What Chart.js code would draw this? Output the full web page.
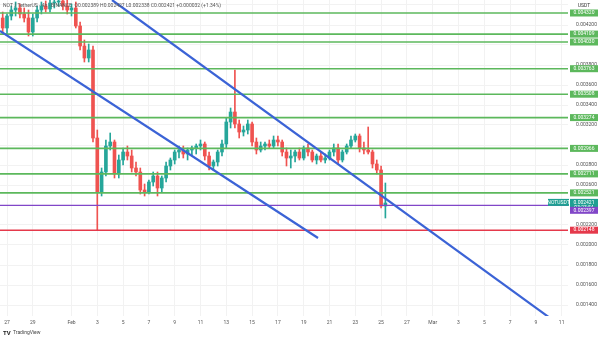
<!DOCTYPE html>
<html>
<head>
<meta charset="utf-8">
<script src="https://cdn.jsdelivr.net/npm/chart.js@4.4.1/dist/chart.umd.min.js"></script>
<style>
  html, body { margin: 0; padding: 0; background: #fff; }
  #wrap { width: 600px; height: 340px; position: relative; }
</style>
</head>
<body>
<div id="wrap"><canvas id="chart"></canvas></div>
<script>
// 8h candles, x = days since Jan 27
var firstCandle = -1 / 3;
var candleStep = 1 / 3;

var opens = [0.00427, 0.00417, 0.00429, 0.00435, 0.00437, 0.00431, 0.00427, 0.00413, 0.00427, 0.00435,
    0.00439, 0.00436, 0.00442, 0.00443, 0.00444, 0.00439, 0.00435, 0.00437, 0.00419, 0.00399,
    0.00387, 0.00395, 0.00307, 0.00253, 0.00273, 0.00299, 0.00303, 0.00271, 0.00285, 0.00293,
    0.00289, 0.00277, 0.00273, 0.00255, 0.00253, 0.00263, 0.00269, 0.00257, 0.00267, 0.00279,
    0.00285, 0.00293, 0.00295, 0.00291, 0.00295, 0.00297, 0.00299, 0.00301, 0.00289, 0.00279,
    0.00283, 0.00293, 0.00301, 0.00323, 0.00333, 0.00321, 0.00313, 0.00315, 0.00321, 0.00303,
    0.00295, 0.00299, 0.00301, 0.00299, 0.00305, 0.00303, 0.00293, 0.00287, 0.00289, 0.00293,
    0.00287, 0.00297, 0.00293, 0.00285, 0.00289, 0.00285, 0.00287, 0.00293, 0.00297, 0.00285,
    0.00293, 0.00299, 0.00305, 0.00309, 0.00297, 0.00295, 0.00293, 0.00281, 0.00275, 0.00239];
var highs = [0.00433, 0.00431, 0.00439, 0.00443, 0.00441, 0.00437, 0.00435, 0.00431, 0.00439, 0.00443,
    0.00444, 0.00445, 0.00450, 0.00450, 0.00452, 0.00448, 0.00441, 0.00443, 0.00423, 0.00405,
    0.00401, 0.00399, 0.00315, 0.00277, 0.00305, 0.00312, 0.00305, 0.00290, 0.00297, 0.00299,
    0.00295, 0.00283, 0.00277, 0.00261, 0.00265, 0.00273, 0.00273, 0.00269, 0.00283, 0.00287,
    0.00295, 0.00299, 0.00299, 0.00297, 0.00299, 0.00301, 0.00305, 0.00303, 0.00293, 0.00285,
    0.00295, 0.00305, 0.00327, 0.00337, 0.00375, 0.00325, 0.00319, 0.00325, 0.00323, 0.00307,
    0.00303, 0.00303, 0.00305, 0.00309, 0.00309, 0.00305, 0.00297, 0.00295, 0.00295, 0.00297,
    0.00299, 0.00301, 0.00295, 0.00291, 0.00293, 0.00291, 0.00295, 0.00301, 0.00301, 0.00295,
    0.00301, 0.00309, 0.00311, 0.00311, 0.00303, 0.00318, 0.00295, 0.00285, 0.00279, 0.00262];
var lows = [0.00413, 0.00411, 0.00425, 0.00429, 0.00427, 0.00423, 0.00409, 0.00409, 0.00423, 0.00431,
    0.00433, 0.00433, 0.00437, 0.00439, 0.00435, 0.00431, 0.00429, 0.00417, 0.00395, 0.00383,
    0.00383, 0.00303, 0.00215, 0.00249, 0.00269, 0.00295, 0.00267, 0.00267, 0.00280, 0.00285,
    0.00273, 0.00269, 0.00251, 0.00249, 0.00251, 0.00259, 0.00249, 0.00253, 0.00263, 0.00275,
    0.00281, 0.00287, 0.00287, 0.00285, 0.00289, 0.00291, 0.00295, 0.00285, 0.00275, 0.00275,
    0.00279, 0.00289, 0.00297, 0.00317, 0.00317, 0.00307, 0.00309, 0.00311, 0.00299, 0.00291,
    0.00293, 0.00295, 0.00297, 0.00297, 0.00299, 0.00289, 0.00279, 0.00277, 0.00283, 0.00285,
    0.00285, 0.00289, 0.00283, 0.00281, 0.00283, 0.00282, 0.00285, 0.00289, 0.00281, 0.00283,
    0.00291, 0.00297, 0.00303, 0.00293, 0.00291, 0.00291, 0.00277, 0.00271, 0.00237, 0.00227];
var closes = [0.00417, 0.00429, 0.00435, 0.00437, 0.00431, 0.00427, 0.00413, 0.00427, 0.00435, 0.00439,
    0.00436, 0.00442, 0.00443, 0.00444, 0.00439, 0.00435, 0.00437, 0.00419, 0.00399, 0.00387,
    0.00395, 0.00307, 0.00253, 0.00273, 0.00299, 0.00303, 0.00271, 0.00285, 0.00293, 0.00289,
    0.00277, 0.00273, 0.00255, 0.00253, 0.00263, 0.00269, 0.00257, 0.00267, 0.00279, 0.00285,
    0.00293, 0.00295, 0.00291, 0.00295, 0.00297, 0.00299, 0.00301, 0.00289, 0.00279, 0.00283,
    0.00293, 0.00301, 0.00323, 0.00333, 0.00321, 0.00313, 0.00315, 0.00321, 0.00303, 0.00295,
    0.00299, 0.00301, 0.00299, 0.00305, 0.00303, 0.00293, 0.00287, 0.00289, 0.00293, 0.00287,
    0.00297, 0.00293, 0.00285, 0.00289, 0.00285, 0.00287, 0.00293, 0.00297, 0.00285, 0.00293,
    0.00299, 0.00305, 0.00309, 0.00297, 0.00295, 0.00293, 0.00281, 0.00275, 0.00239, 0.00242];

var greenLevels = [0.004320, 0.004109, 0.004030, 0.003763, 0.003508, 0.003274, 0.002966, 0.002711, 0.002521];
var currentPrice = 0.002421;
var purpleLevel = 0.002397;
var redLevel = 0.002148;

// trend lines: [day, price] end points
var upperTrend = [[8.14, 0.00445], [42.09, 0.00127]];
var lowerTrend = [[-0.54, 0.00414], [24.11, 0.00207]];

var dayTicks = [0, 2, 5, 7, 9, 11, 13, 15, 17, 19, 21, 23, 25, 27, 29, 31, 33, 35, 37, 39, 41, 43];
var dayLabels = ['27', '29', 'Feb', '3', '5', '7', '9', '11', '13', '15', '17', '19', '21', '23', '25', '27', 'Mar', '3', '5', '7', '9', '11'];
var yTicks = [0.0014, 0.0016, 0.0018, 0.0020, 0.0022, 0.0024, 0.0026, 0.0028, 0.0030, 0.0032, 0.0034, 0.0036, 0.0038, 0.0040, 0.0042, 0.0044];
var yTickLabels = ['0.001400', '0.001600', '0.001800', '0.002000', '0.002200', '', '0.002600', '0.002800', '', '0.003200', '0.003400', '0.003600', '0.003800', '', '0.004200', ''];

var xMin = -0.543, xMax = 43.49;
var yMin = 0.00129, yMax = 0.00445;

var upColor = '#26a69a', downColor = '#ef5350';
var green = '#5cb85c', blue = '#3b63d6', purple = '#8146c8', red = '#e5394b', teal = '#1f9f92';

var times = opens.map(function (_, i) { return firstCandle + i * candleStep; });
var candleColors = opens.map(function (o, i) { return closes[i] >= o ? upColor : downColor; });

var datasets = [];

greenLevels.forEach(function (v) {
    datasets.push({ type: 'line', data: [{ x: xMin, y: v }, { x: xMax, y: v }], borderColor: green, borderWidth: 1.6, pointRadius: 0, order: 2 });
});
datasets.push({ type: 'line', data: [{ x: xMin, y: purpleLevel }, { x: xMax, y: purpleLevel }], borderColor: purple, borderWidth: 1.2, pointRadius: 0, order: 2 });
datasets.push({ type: 'line', data: [{ x: xMin, y: redLevel }, { x: xMax, y: redLevel }], borderColor: red, borderWidth: 1.6, pointRadius: 0, order: 2 });
[upperTrend, lowerTrend].forEach(function (t) {
    datasets.push({ type: 'line', data: t.map(function (p) { return { x: p[0], y: p[1] }; }), borderColor: blue, borderWidth: 2.2, pointRadius: 0, order: 1 });
});

datasets.push({
    type: 'bar',
    data: times.map(function (t, i) { return { x: t, y: [lows[i], highs[i]] }; }),
    backgroundColor: candleColors,
    barThickness: 1,
    grouped: false,
    order: 11
});
datasets.push({
    type: 'bar',
    data: times.map(function (t, i) { return { x: t, y: [opens[i], closes[i]] }; }),
    backgroundColor: candleColors,
    barThickness: 3,
    minBarLength: 1,
    grouped: false,
    order: 10
});

var labelPlugin = {
    id: 'priceLabels',
    afterDraw: function (chart) {
        var ctx = chart.ctx, ys = chart.scales.y, area = chart.chartArea;
        ctx.save();
        ctx.font = '5px Roboto';
        ctx.textBaseline = 'middle';
        ctx.textAlign = 'center';

        function tag(value, color, text) {
            var py = ys.getPixelForValue(value);
            ctx.fillStyle = color;
            ctx.fillRect(area.right + 2, py - 3.5, 28, 7);
            ctx.fillStyle = '#fff';
            ctx.fillText(text, area.right + 16, py);
        }
        greenLevels.forEach(function (v) { tag(v, green, v.toFixed(6)); });

        // current price with countdown
        var cy = ys.getPixelForValue(currentPrice);
        ctx.fillStyle = teal;
        ctx.fillRect(area.right + 2, cy - 4, 28, 11);
        ctx.fillRect(area.right - 20, cy - 4, 21, 7);
        ctx.fillStyle = '#fff';
        ctx.fillText(currentPrice.toFixed(6), area.right + 16, cy - 0.5);
        ctx.fillText('03:23:54', area.right + 16, cy + 4.5);
        ctx.fillText('NOTUSDT', area.right - 9.5, cy - 0.5);

        var py = ys.getPixelForValue(purpleLevel) + 5;
        ctx.fillStyle = purple;
        ctx.fillRect(area.right + 2, py - 3.5, 28, 7);
        ctx.fillStyle = '#fff';
        ctx.fillText(purpleLevel.toFixed(6), area.right + 16, py);

        tag(redLevel, red, redLevel.toFixed(6));

        ctx.fillStyle = '#333';
        ctx.fillText('USDT', area.right + 16, 6);

        ctx.textAlign = 'left';
        ctx.fillStyle = '#555';
        ctx.fillText('NOT / TetherUS · 4h · BINANCE  O0.002389 H0.002427 L0.002338 C0.002421 +0.000032 (+1.34%)', 3, 6);

        ctx.fillStyle = '#222';
        ctx.font = 'bold 6px Roboto';
        ctx.fillText('TV', 3, 333);
        ctx.font = '5px Roboto';
        ctx.fillStyle = '#444';
        ctx.fillText('TradingView', 13, 333);
        ctx.restore();
    }
};

new Chart(document.getElementById('chart').getContext('2d'), {
    type: 'bar',
    data: { datasets: datasets },
    options: {
        responsive: true,
        maintainAspectRatio: false,
        animation: false,
        layout: { padding: 0, autoPadding: false },
        plugins: { legend: { display: false }, tooltip: { enabled: false } },
        scales: {
            x: {
                type: 'linear',
                min: xMin,
                max: xMax,
                offset: false,
                grid: { color: '#f2f2f2', drawTicks: false, offset: false },
                border: { display: false },
                ticks: {
                    font: { size: 5, family: 'Roboto' },
                    color: '#555',
                    padding: 4,
                    autoSkip: false,
                    maxRotation: 0,
                    callback: function (v, i) { return dayLabels[i]; }
                },
                afterBuildTicks: function (s) { s.ticks = dayTicks.map(function (v) { return { value: v }; }); },
                afterFit: function (s) { s.height = 24; s.paddingLeft = 0; s.paddingRight = 0; }
            },
            y: {
                position: 'right',
                min: yMin,
                max: yMax,
                grid: { color: '#f2f2f2', drawTicks: false },
                border: { display: false },
                ticks: {
                    font: { size: 5, family: 'Roboto' },
                    color: '#555',
                    padding: 8,
                    callback: function (v, i) { return yTickLabels[i]; }
                },
                afterBuildTicks: function (s) { s.ticks = yTicks.map(function (v) { return { value: v }; }); },
                afterFit: function (s) { s.width = 32; s.paddingTop = 0; s.paddingBottom = 0; }
            }
        }
    },
    plugins: [labelPlugin]
});
</script>
</body>
</html>
